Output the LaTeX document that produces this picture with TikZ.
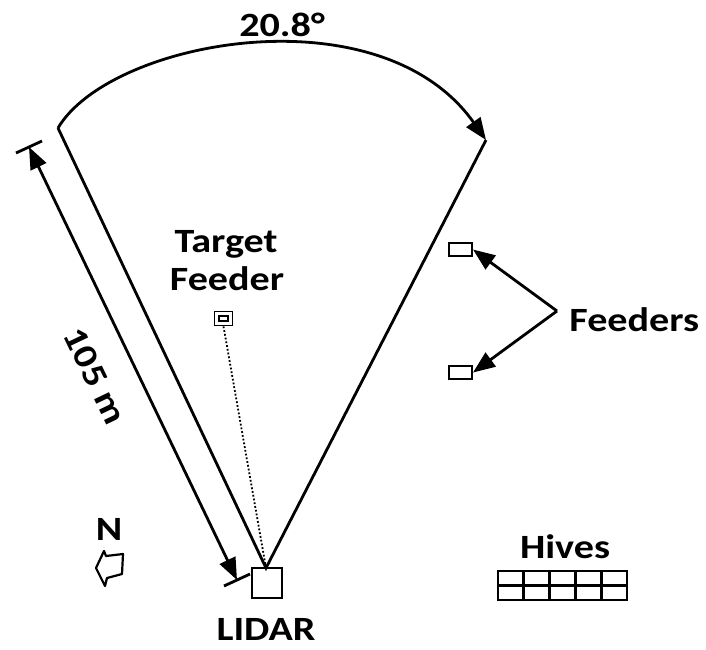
\documentclass[tikz,border=0pt]{standalone}
\usepackage{fontspec}
\setmainfont{Carlito}
\newfontfamily\lblfont[FakeStretch=1.18]{Carlito}
\usetikzlibrary{arrows.meta}
\begin{document}
\begin{tikzpicture}[x=1pt,y=-1pt,line width=2.8pt,line join=miter,
  big/.style={-{Triangle[length=22pt,width=17pt]}},
  lbl/.style={font=\fontsize{34}{38}\lblfont\bfseries,inner sep=0pt},
  feederbox/.style={draw,line width=2pt,minimum width=23pt,minimum height=13pt,inner sep=0pt}]
\useasboundingbox (0,0) rectangle (706,649);
% wedge
\coordinate (apex) at (266,568);
\coordinate (L) at (58,128);
\coordinate (R) at (486,140);
\draw (L) -- (apex) -- (R);
\draw[big] (L) .. controls (110,40) and (380,-10) .. (R);
\node[lbl,anchor=base] (ang) at (282,36) {20.8°};
% dimension line
\coordinate (d1) at (29,147);
\coordinate (d2) at (237,580);
\coordinate (t1a) at (16,153); \coordinate (t1b) at (42,141);
\coordinate (t2a) at (224,586); \coordinate (t2b) at (250,574);
\draw (t1a) -- (t1b);
\draw (t2a) -- (t2b);
\draw[{Triangle[length=22pt,width=17pt]}-{Triangle[length=22pt,width=17pt]}] (d1) -- (d2);
\node[lbl,rotate=-64.4] (dist) at (95,376) {105 m};
% LIDAR
\node[draw,minimum width=30pt,minimum height=30pt,inner sep=0pt] (lidar) at (267,583) {};
\node[lbl,anchor=base] (lidart) at (266,640) {LIDAR};
% target feeder
\node[draw,line width=1.8pt,minimum width=18pt,minimum height=14pt,inner sep=0pt] (tf) at (223.5,318.5) {};
\node[draw,line width=1.4pt,minimum width=9pt,minimum height=5pt,inner sep=0pt] (tfin) at (223.5,318.5) {};
\draw[dotted,line width=1.8pt] (tf.south) -- (apex);
\node[lbl,anchor=base] (tt1) at (226,252) {Target};
\node[lbl,anchor=base] (tt2) at (227,290) {Feeder};
% feeders
\node[feederbox] (f1) at (460.5,249.5) {};
\node[feederbox] (f2) at (460.5,372.5) {};
\coordinate (fj) at (557,311);
\draw[big] (fj) -- (f1.east);
\draw[big] (fj) -- (f2.east);
\node[lbl,anchor=base west] (ft) at (568,331) {Feeders};
% hives
\draw (498,571) rectangle (627,600);
\draw (498,585.5) -- (627,585.5);
\foreach \xx in {523.8,549.6,575.4,601.2} \draw (\xx,571) -- (\xx,600);
\node[lbl,anchor=base] (ht) at (565,558) {Hives};
% north
\node[lbl,anchor=base] (nt) at (109,540) {N};
\draw[line width=2.2pt,line join=round] (96,568) -- (104,551) -- (106,556) -- (123,554) -- (122,574) -- (107,578) -- (105,586) -- cycle;
\end{tikzpicture}
\end{document}
